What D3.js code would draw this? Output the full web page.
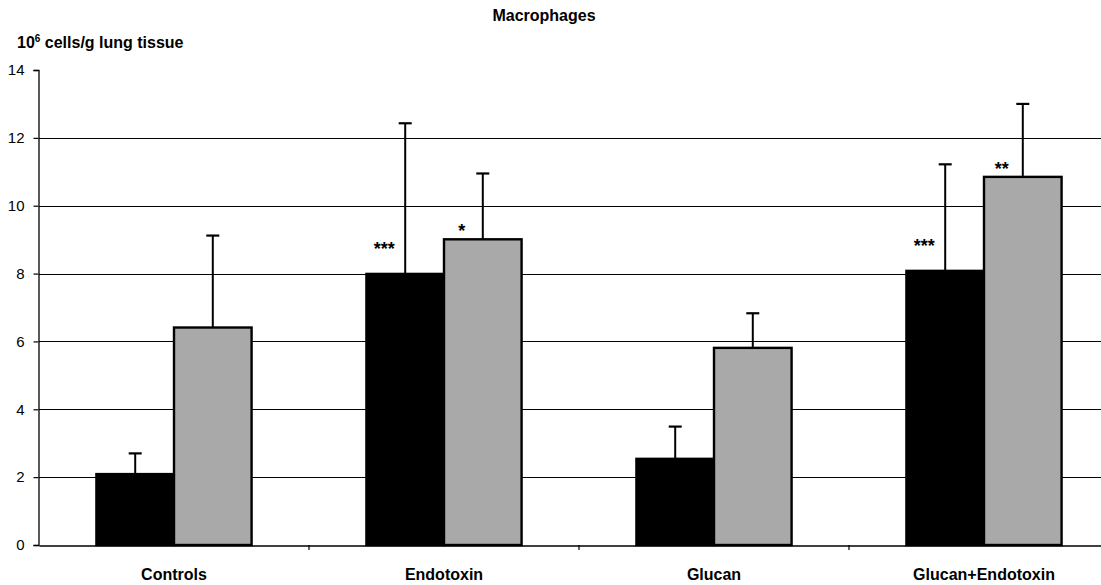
<!DOCTYPE html>
<html>
<head>
<meta charset="utf-8">
<script src="https://cdn.jsdelivr.net/npm/d3@7"></script>
<style>
  html, body { margin: 0; padding: 0; background: #fff; }
  svg { display: block; font-family: "Liberation Sans", Arial, sans-serif; }
</style>
</head>
<body>
<svg id="chart" width="1101" height="585"></svg>
<script>
// Macrophage counts per group, two series (black / grey), mean and upper SD
const categories = ["Controls", "Endotoxin", "Glucan", "Glucan+Endotoxin"];
const seriesNames = ["black", "grey"];
const blackValues = [2.09, 7.99, 2.54, 8.08];
const blackErrors = [0.61, 4.44, 0.95, 3.14];
const greyValues = [6.41, 9.01, 5.81, 10.85];
const greyErrors = [2.71, 1.94, 1.02, 2.15];
const blackStars = ["", "***", "", "***"];
const greyStars = ["", "*", "", "**"];
const yTicks = [0, 2, 4, 6, 8, 10, 12, 14];

const svg = d3.select("#chart");
const margin = { left: 39, top: 70 };
const plotRight = 1119;           // last category band runs past the visible edge
const y0 = 545;

const x = d3.scaleBand().domain(categories).range([margin.left, plotRight]).paddingInner(0).paddingOuter(0);
const xs = d3.scaleBand().domain(seriesNames).range([0, x.bandwidth()]).paddingInner(0).paddingOuter(0.74);
const y = d3.scaleLinear().domain([0, 14]).range([y0, margin.top]);

const font = "'Liberation Sans', Arial, sans-serif";

// horizontal gridlines
svg.append("g")
  .selectAll("line")
  .data(yTicks.filter(t => t > 0 && t < 14))
  .join("line")
  .attr("x1", margin.left).attr("x2", 1101)
  .attr("y1", d => Math.round(y(d)) + 0.5).attr("y2", d => Math.round(y(d)) + 0.5)
  .attr("stroke", "#000").attr("stroke-width", 1.2);

// y axis
const yAxis = svg.append("g")
  .attr("transform", `translate(${margin.left - 0.5},0)`)
  .call(d3.axisLeft(y).tickValues(yTicks).tickSize(5).tickPadding(9).tickFormat(d3.format("d")));
yAxis.select(".domain").attr("stroke", "#000").attr("stroke-width", 1.3);
yAxis.selectAll(".tick line").attr("stroke", "#000").attr("stroke-width", 1.2);
yAxis.selectAll(".tick text").attr("font-size", 15).attr("fill", "#000").attr("font-family", font);

// x axis
const xAxis = svg.append("g")
  .attr("transform", `translate(0,${y0 + 0.5})`)
  .call(d3.axisBottom(x).tickSize(0).tickPadding(23));
xAxis.select(".domain").attr("stroke", "#000").attr("stroke-width", 1.3);
xAxis.selectAll(".tick text").attr("font-size", 16).attr("font-weight", "bold").attr("fill", "#000")
  .attr("font-family", font);
// tick marks between categories
svg.append("g").selectAll("line")
  .data(categories.slice(1))
  .join("line")
  .attr("x1", d => x(d)).attr("x2", d => x(d))
  .attr("y1", y0).attr("y2", y0 + 5)
  .attr("stroke", "#000").attr("stroke-width", 1.2);

const rows = categories.map((c, i) => ({
  cat: c,
  bars: [
    { s: "black", v: blackValues[i], e: blackErrors[i], star: blackStars[i], fill: "#000", starDy: 26 },
    { s: "grey", v: greyValues[i], e: greyErrors[i], star: greyStars[i], fill: "#a9a9a9", starDy: 9 }
  ]
}));

const groups = svg.append("g").selectAll("g")
  .data(rows).join("g")
  .attr("transform", d => `translate(${x(d.cat)},0)`);

// error bars (upper only)
groups.selectAll("g.err").data(d => d.bars).join("g").attr("class", "err")
  .each(function (b) {
    const g = d3.select(this);
    const cx = xs(b.s) + xs.bandwidth() / 2;
    g.append("line").attr("x1", cx).attr("x2", cx)
      .attr("y1", y(b.v)).attr("y2", y(b.v + b.e))
      .attr("stroke", "#000").attr("stroke-width", 2);
    g.append("line").attr("x1", cx - 6.5).attr("x2", cx + 6.5)
      .attr("y1", y(b.v + b.e)).attr("y2", y(b.v + b.e))
      .attr("stroke", "#000").attr("stroke-width", 2.2);
  });

// bars
groups.selectAll("rect").data(d => d.bars).join("rect")
  .attr("x", b => xs(b.s))
  .attr("width", xs.bandwidth())
  .attr("y", b => y(b.v))
  .attr("height", b => y0 - y(b.v))
  .attr("fill", b => b.fill)
  .attr("stroke", "#000").attr("stroke-width", 2.4);

// significance markers
groups.selectAll("text.star").data(d => d.bars.filter(b => b.star)).join("text")
  .attr("class", "star")
  .attr("x", b => xs(b.s) + xs.bandwidth() / 2 - 21)
  .attr("y", b => y(b.v) - b.starDy + 7)
  .attr("text-anchor", "middle")
  .attr("font-size", 18).attr("font-weight", "bold")
  .text(b => b.star);

// title
svg.append("text").attr("x", 544).attr("y", 21).attr("text-anchor", "middle")
  .attr("font-size", 16).attr("font-weight", "bold").text("Macrophages");

// y axis label with superscript
const yl = svg.append("text").attr("x", 17).attr("y", 48)
  .attr("font-size", 16).attr("font-weight", "bold");
yl.append("tspan").text("10");
yl.append("tspan").attr("dy", -6).attr("font-size", 10).text("6");
yl.append("tspan").attr("dy", 6).text(" cells/g lung tissue");
</script>
</body>
</html>
